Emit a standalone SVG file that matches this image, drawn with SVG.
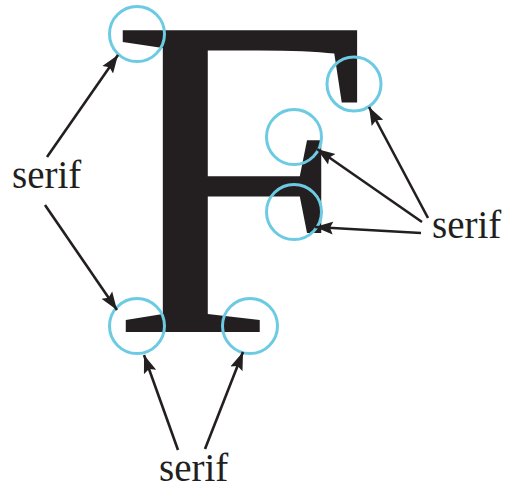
<svg xmlns="http://www.w3.org/2000/svg" width="508" height="490" viewBox="0 0 508 490">
  <style>
    .glyph { font-family: "Liberation Serif", "DejaVu Serif", serif; fill: #231f20; }
    .lbl { font-family: "Liberation Serif", "DejaVu Serif", serif; font-size: 39px; fill: #231f20; }
    .ring { fill: none; stroke: #6ccbe2; stroke-width: 3; }
    .arr { fill: none; stroke: #231f20; stroke-width: 2.6; marker-end: url(#ah); }
  </style>
  <defs>
    <marker id="ah" markerUnits="userSpaceOnUse" markerWidth="20" markerHeight="14" refX="18" refY="6.5" orient="auto" viewBox="0 0 20 13">
      <path d="M0,0 L18,6.5 L0,13 L3,6.5 Z" fill="#231f20"/>
    </marker>
  </defs>
  <rect width="508" height="490" fill="#ffffff"/>

  <g id="letter-F">
    <text class="glyph" transform="translate(109,332) scale(1.035,1)" x="0" y="0" font-size="461">F</text>
  </g>

  <g id="serif-circles">
    <circle id="c-top-left" class="ring" cx="137" cy="34" r="27.5"/>
    <circle id="c-arm" class="ring" cx="354" cy="84" r="27"/>
    <circle id="c-bar-upper" class="ring" cx="294" cy="137" r="27.5"/>
    <circle id="c-bar-lower" class="ring" cx="294" cy="212" r="27.5"/>
    <circle id="c-bottom-left" class="ring" cx="137" cy="326" r="27.5"/>
    <circle id="c-bottom-right" class="ring" cx="250" cy="326" r="27.5"/>
  </g>

  <g id="label-left"><text class="lbl" x="12" y="188">serif</text></g>
  <g id="label-right"><text class="lbl" x="432" y="238">serif</text></g>
  <g id="label-bottom"><text class="lbl" x="159" y="481">serif</text></g>

  <g id="connectors">
    <line class="arr" x1="47" y1="157" x2="118" y2="55"/>
    <line class="arr" x1="45" y1="205" x2="117" y2="310"/>
    <line class="arr" x1="428" y1="218" x2="369" y2="107"/>
    <line class="arr" x1="422" y1="222" x2="317" y2="149"/>
    <line class="arr" x1="421" y1="233" x2="315" y2="227"/>
    <line class="arr" x1="178" y1="450" x2="144" y2="355"/>
    <line class="arr" x1="205" y1="449" x2="243" y2="352"/>
  </g>
</svg>
